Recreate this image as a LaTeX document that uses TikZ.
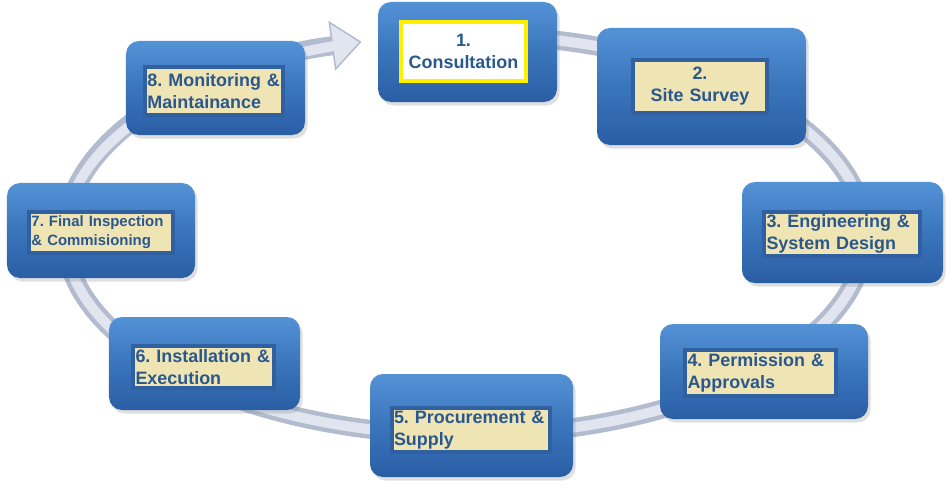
\documentclass[tikz,border=0pt]{standalone}
\usepackage{fontspec}
\setmainfont{Liberation Sans}
\usepackage{xcolor}
\usepackage{tikz}
\usetikzlibrary{arrows.meta,shadows}

\definecolor{boxtop}{RGB}{84,146,214}
\definecolor{boxmid}{RGB}{58,117,188}
\definecolor{boxbot}{RGB}{42,94,164}
\definecolor{lblframe}{RGB}{48,96,160}
\definecolor{lblfill}{RGB}{239,228,180}
\definecolor{lbltext}{RGB}{42,88,142}
\definecolor{ringedge}{RGB}{178,188,206}
\definecolor{ringlight}{RGB}{224,229,239}
\definecolor{signyellow}{RGB}{255,240,0}

\tikzset{
  stepbox/.style={rounded corners=2.6mm, top color=boxtop, bottom color=boxbot, middle color=boxmid,
    drop shadow={opacity=0.25, shadow xshift=0.5mm, shadow yshift=-0.7mm}},
  steplabel/.style={fill=lblfill, draw=lblframe, line width=0.8mm, inner xsep=0.5mm, inner ysep=0pt,
    align=left, text=lbltext, font=\bfseries\frenchspacing\fontsize{10.2}{12.6}\selectfont},
}

\begin{document}
\begin{tikzpicture}[x=0.2mm, y=0.2mm]
  \useasboundingbox (0,0) rectangle (952,488);

  % Ring
  \draw[line width=3.8mm, ringedge, -{Triangle[width=10mm, length=6mm, line width=0.3mm, fill=ringlight]}]
    (430.14,452.24) arc[start angle=95, end angle=-255, x radius=80mm, y radius=40mm];
  \draw[line width=2mm, ringlight]
    (430.14,452.24) arc[start angle=95, end angle=-251, x radius=80mm, y radius=40mm];

  % Step boxes
  \node[stepbox, minimum width=35.8mm, minimum height=20mm] (box1) at (467.5,436) {};
  \node[stepbox, minimum width=41.8mm, minimum height=23.4mm] (box2) at (701.5,401.5) {};
  \node[stepbox, minimum width=40.2mm, minimum height=20.2mm] (box3) at (842.5,255.5) {};
  \node[stepbox, minimum width=41.6mm, minimum height=19mm] (box4) at (764,116.5) {};
  \node[stepbox, minimum width=40.6mm, minimum height=20.6mm] (box5) at (471.5,62.5) {};
  \node[stepbox, minimum width=38.2mm, minimum height=18.6mm] (box6) at (204.5,124.5) {};
  \node[stepbox, minimum width=37.6mm, minimum height=19mm] (box7) at (101,257.5) {};
  \node[stepbox, minimum width=35.8mm, minimum height=18.8mm] (box8) at (215.5,400) {};

  % Labels
  \node[steplabel, fill=white, draw=signyellow, align=center, text width=24mm, minimum height=11.8mm] (lbl1) at (463.5,436.5) {1.\\Consultation};
  \node[steplabel, align=center, text width=25.8mm, minimum height=10.6mm] (lbl2) at (700,401.5) {2.\\Site Survey};
  \node[steplabel, text width=30.2mm, minimum height=8.8mm] (lbl3) at (842,254) {3. Engineering \&\\System Design};
  \node[steplabel, text width=29.2mm, minimum height=9.2mm] (lbl4) at (760.5,115) {4. Permission \&\\Approvals};
  \node[steplabel, text width=30.6mm, minimum height=8.8mm] (lbl5) at (470.5,58) {5. Procurement \&\\Supply};
  \node[steplabel, text width=27.2mm, minimum height=8.4mm] (lbl6) at (203.5,121) {6. Installation \&\\Execution};
  \node[steplabel, text width=27.8mm, minimum height=8.2mm, font=\bfseries\frenchspacing\fontsize{8.5}{10.8}\selectfont] (lbl7) at (101,255.5) {7. Final Inspection\\\& Commisioning};
  \node[steplabel, text width=26.6mm, minimum height=9.6mm] (lbl8) at (214,397) {8. Monitoring \&\\Maintainance};
\end{tikzpicture}
\end{document}
